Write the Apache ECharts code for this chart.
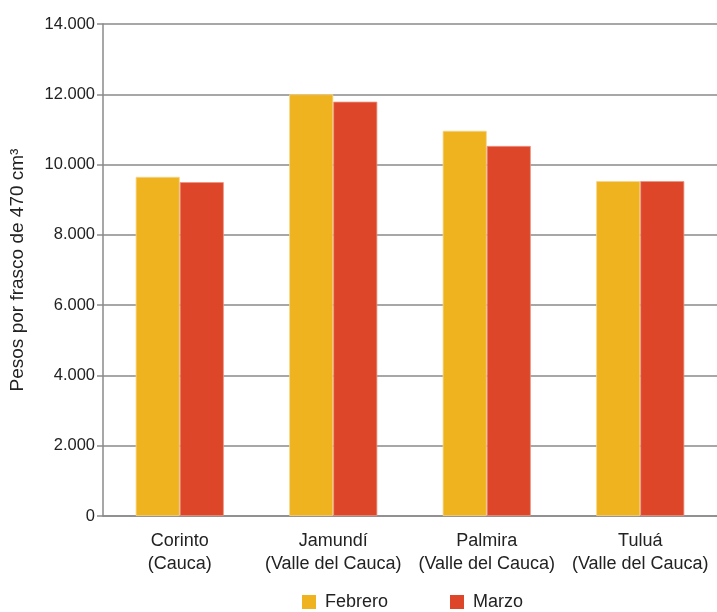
<!DOCTYPE html>
<html><head><meta charset="utf-8">
<script src="https://cdn.jsdelivr.net/npm/echarts@6/dist/echarts.min.js"></script>
<style>html,body{margin:0;padding:0;background:#fff}#c{width:717px;height:612px}</style>
</head><body><div id="c"></div>
<script>
const categories = ['Corinto\n(Cauca)', 'Jamundí\n(Valle del Cauca)', 'Palmira\n(Valle del Cauca)', 'Tuluá\n(Valle del Cauca)'];
const febrero = [9650, 12000, 10960, 9530];
const marzo = [9500, 11790, 10530, 9530];
const seriesNames = ['Febrero', 'Marzo'];
const yAxisName = 'Pesos por frasco de 470 cm³';

const chart = echarts.init(document.getElementById('c'));
const font = 'Liberation Sans, Arial, sans-serif';
chart.setOption({
  animation: false,
  grid: {left: 103, right: 0, top: 24, bottom: 96, outerBoundsMode: 'none', containLabel: false},
  legend: {
    top: 593, left: 302, padding: 0, itemWidth: 14, itemHeight: 14, itemGap: 62,
    icon: 'rect', itemStyle: {borderWidth: 0},
    textStyle: {fontFamily: font, fontSize: 18, color: '#222', padding: [0,0,0,4]},
    data: seriesNames
  },
  xAxis: {
    type: 'category', data: categories,
    axisLine: {lineStyle: {color: '#8a8a8a', width: 1.5}},
    axisTick: {show: false},
    axisLabel: {interval: 0, hideOverlap: false, fontFamily: font, fontSize: 18, color: '#222', lineHeight: 23, margin: 14}
  },
  yAxis: {
    type: 'value', min: 0, max: 14000, interval: 2000,
    name: yAxisName, nameLocation: 'middle', nameGap: 76, nameRotate: 90,
    nameTextStyle: {fontFamily: font, fontSize: 19, color: '#222'},
    axisLine: {show: true, lineStyle: {color: '#8a8a8a', width: 1.5}},
    axisTick: {show: true, length: 6, lineStyle: {color: '#8a8a8a', width: 1.5}},
    splitLine: {lineStyle: {color: '#8a8a8a', width: 1.5}},
    axisLabel: {fontFamily: font, fontSize: 16.5, color: '#222', margin: 8,
      formatter: v => String(v).replace(/\B(?=(\d{3})+(?!\d))/g, '.')}
  },
  series: [
    {name: seriesNames[0], type: 'bar', data: febrero, barGap: '0%', barCategoryGap: '42.6%',
     itemStyle: {color: '#EFB31F', borderColor: '#F6D58A', borderWidth: 0.8}},
    {name: seriesNames[1], type: 'bar', data: marzo,
     itemStyle: {color: '#DD4628', borderColor: '#EC9583', borderWidth: 0.8}}
  ]
});
</script></body></html>
